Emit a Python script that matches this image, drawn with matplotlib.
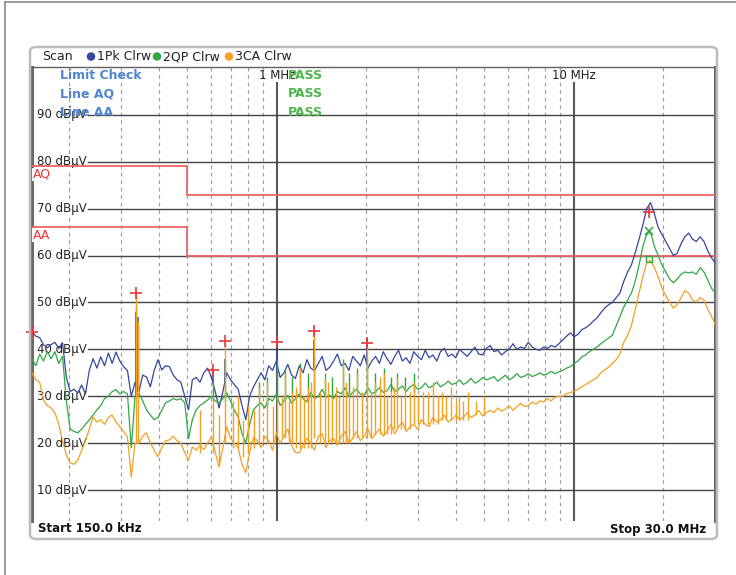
import numpy as np
import matplotlib.pyplot as plt
from matplotlib.patches import FancyBboxPatch, Ellipse
from matplotlib.lines import Line2D

W, H = 736, 575

# analyzer sweep points, 150 kHz .. 30 MHz, log spaced
SWEEP_MHZ = np.geomspace(0.15, 30.0, 180)

# trace 1: 1Pk Clrw (dBuV)
PK = [43.8, 42.8, 42.5, 41.0, 40.3, 41.0, 41.5, 40.2, 41.4, 34.0,
      31.0, 31.5, 30.7, 32.4, 30.5, 35.5, 38.0, 36.0, 38.4, 36.5,
      39.2, 37.0, 39.4, 37.5, 36.3, 35.5, 30.0, 33.0, 31.0, 34.5,
      34.1, 32.0, 35.5, 37.8, 35.6, 36.5, 36.3, 34.5, 33.5, 33.0,
      30.0, 27.1, 33.5, 34.0, 33.0, 35.0, 36.0, 34.0, 31.0, 27.5,
      31.0, 35.0, 33.5, 32.5, 31.5, 28.0, 25.0, 30.0, 32.0, 33.5,
      35.0, 33.5, 36.5, 35.5, 37.5, 34.0, 35.0, 36.8, 34.5, 33.8,
      36.5, 35.0, 37.8, 36.0, 35.5, 37.0, 38.5, 35.5, 36.2, 37.5,
      39.0, 36.5, 37.0, 35.5, 38.5, 37.5, 36.5, 38.8, 36.0, 37.5,
      38.5, 37.0, 39.5, 38.0, 36.8, 38.5, 39.8, 37.5, 38.2, 37.0,
      39.5, 38.5, 37.8, 39.8, 38.2, 38.8, 37.5, 39.5, 40.2, 38.5,
      39.0, 38.2, 40.0, 39.2, 38.5, 39.5, 40.5, 39.0, 38.8, 40.2,
      40.8, 39.5, 39.8, 38.8, 39.5, 40.0, 41.2, 40.0, 40.5, 40.2,
      41.5, 40.5, 40.0, 39.8, 40.5, 40.2, 40.8, 40.5, 41.2, 42.0,
      42.8, 43.5, 42.7, 43.2, 44.2, 44.6, 45.2, 46.0, 46.7, 47.8,
      48.8, 49.5, 50.0, 51.0, 52.0, 54.5, 56.5, 58.0, 60.6, 63.5,
      66.5, 70.0, 71.3, 69.0, 66.0, 64.5, 63.0, 61.5, 60.0, 60.5,
      62.5, 64.0, 64.8, 63.5, 63.0, 64.0, 63.0, 61.0, 59.5, 58.4]

# trace 2: 2QP Clrw
QP = [38.0, 36.5, 39.0, 37.5, 39.5, 38.0, 39.5, 37.0, 38.5, 29.0,
      23.0, 22.5, 22.2, 23.0, 24.0, 25.0, 26.0, 27.1, 28.0, 29.5,
      30.0, 31.0, 31.4, 30.5, 31.0, 30.5, 19.0, 30.0, 30.7, 29.0,
      27.1, 26.0, 25.0, 25.5, 27.0, 28.6, 29.0, 29.5, 29.2, 29.5,
      28.6, 21.0, 25.0, 27.1, 28.0, 28.6, 29.2, 30.0, 29.0, 28.6,
      29.5, 30.7, 29.0, 27.0, 25.6, 22.0, 20.0, 24.0, 27.1, 28.0,
      28.6, 27.5, 29.5, 29.0, 30.5, 28.0, 29.0, 30.2, 28.5, 29.5,
      30.5, 29.5, 28.8, 30.8, 29.5, 30.0, 31.5, 29.8, 30.2, 29.5,
      31.0, 30.5, 31.8, 30.0, 30.8, 31.5, 30.5, 30.2, 31.8, 30.5,
      31.0, 31.8, 30.8, 31.2, 32.5, 31.0, 31.5, 32.2, 31.0, 32.0,
      32.5, 31.5, 31.8, 32.8, 31.8, 32.2, 33.0, 32.0, 32.5, 33.2,
      32.5, 32.8, 33.5, 32.5, 33.0, 33.8, 32.8, 33.2, 34.0, 33.5,
      33.8, 34.2, 33.2, 33.8, 34.5, 33.5, 34.0, 34.8, 34.0, 34.3,
      34.8, 34.2, 34.5, 35.0, 34.5, 34.8, 35.3, 34.8, 35.2, 35.5,
      36.0, 36.3, 37.0, 37.5, 38.4, 38.8, 39.5, 40.0, 40.5, 41.2,
      41.8, 42.4, 43.0, 45.0, 47.0, 49.0, 50.5, 52.0, 54.5, 58.0,
      61.9, 64.5, 65.0, 62.0, 60.0, 58.0, 56.5, 55.0, 54.2, 55.0,
      56.0, 56.5, 56.3, 56.5, 56.0, 57.4, 56.5, 54.8, 53.0, 52.0]

# trace 3: 3CA Clrw
CA = [35.0, 33.5, 33.0, 29.2, 28.0, 27.5, 26.5, 24.0, 20.5, 17.5,
      15.8, 15.5, 16.4, 18.5, 20.5, 23.0, 25.6, 24.5, 25.0, 24.0,
      25.5, 26.0, 24.5, 23.5, 22.5, 21.3, 12.8, 20.0, 20.0, 21.5,
      22.2, 20.0, 18.5, 17.1, 19.0, 20.5, 20.7, 21.5, 20.5, 20.0,
      18.0, 16.4, 19.2, 18.5, 19.5, 18.6, 20.0, 21.3, 18.0, 14.9,
      19.0, 23.5, 21.0, 20.0, 19.0, 15.5, 13.7, 18.0, 21.3, 20.5,
      19.0, 21.5, 20.5, 18.5, 22.2, 20.0, 21.5, 23.0, 19.5, 18.0,
      17.9, 19.5, 21.0, 20.0, 18.5, 21.5, 22.0, 19.0, 20.5, 21.0,
      19.5, 21.5, 22.5, 20.0, 21.0, 22.5, 20.5, 21.5, 23.0, 21.0,
      22.0, 23.0, 21.5, 22.5, 24.0, 22.0, 23.5, 24.5, 22.5, 23.5,
      24.0, 23.0, 25.0, 24.0, 23.5, 25.5, 24.5, 25.0, 26.0, 24.5,
      25.0, 26.0, 25.0, 25.5, 26.5, 25.5, 26.0, 27.0, 25.8, 26.5,
      27.0, 26.5, 27.5, 26.8, 27.3, 28.0, 27.0, 27.8, 28.5, 27.8,
      28.0, 28.8, 28.3, 29.0, 28.8, 29.5, 29.0, 29.8, 30.0, 30.0,
      30.5, 30.8, 31.0, 31.5, 32.0, 32.5, 33.0, 33.5, 34.0, 35.0,
      35.6, 36.2, 37.0, 37.8, 39.0, 41.5, 43.0, 45.0, 48.5, 52.0,
      55.5, 58.5, 59.0, 57.5, 55.5, 53.0, 51.5, 50.0, 48.8, 49.5,
      51.0, 52.5, 52.0, 50.5, 50.1, 51.0, 50.5, 48.5, 47.0, 45.2]

# harmonic spikes: frequency, trace level at foot, top of spike
CA_SPK_F = [0.336, 0.342, 0.55, 0.611, 0.64, 0.670, 0.71, 0.74, 0.77, 0.80,
            0.84, 0.87, 0.93, 0.97, 1.00, 1.04, 1.07, 1.10, 1.13, 1.16,
            1.20, 1.24, 1.27, 1.30, 1.335, 1.40, 1.45, 1.49, 1.53, 1.58,
            1.62, 1.67, 1.71, 1.75, 1.80, 1.87, 1.94, 2.01, 2.08, 2.15,
            2.22, 2.30, 2.36, 2.42, 2.48, 2.55, 2.62, 2.70, 2.80, 2.90,
            3.00, 3.10, 3.22, 3.35, 3.48, 3.60, 3.72, 3.85, 4.00, 4.10,
            4.25, 4.40, 4.70, 5.00]
CA_SPK_LO = [20, 20, 18, 18, 16, 20, 19, 19, 17, 18,
             19, 20, 20, 20, 22, 21, 21, 20, 20, 19,
             19, 19, 19, 19, 21, 20, 20, 20, 20, 20,
             20, 20, 20, 20, 21, 21, 21, 21, 21, 22,
             22, 22, 22, 22, 23, 23, 23, 23, 23, 24,
             24, 24, 24, 24, 24, 25, 25, 25, 25, 25,
             25, 25, 26, 26]
CA_SPK_HI = [52.0, 46.0, 27.0, 30.0, 26.0, 41.8, 29.0, 30.0, 25.0, 28.0,
             27.0, 32.0, 33.0, 28.0, 30.0, 30.0, 35.0, 29.0, 31.0, 32.0,
             36.0, 30.0, 32.0, 33.0, 43.9, 31.0, 34.0, 33.0, 30.0, 32.0,
             30.0, 37.0, 33.0, 31.0, 32.0, 35.0, 31.0, 41.0, 31.0, 33.0,
             34.0, 35.0, 30.0, 31.0, 32.0, 34.0, 30.0, 32.0, 31.0, 33.0,
             30.0, 31.0, 31.0, 33.0, 30.0, 31.0, 30.0, 32.0, 29.0, 30.0,
             29.0, 31.0, 29.0, 30.0]
QP_SPK_F = [0.336, 0.342, 0.611, 0.670, 0.87, 0.93, 1.00, 1.07, 1.13, 1.20,
            1.27, 1.335, 1.45, 1.53, 1.67, 1.75, 1.87, 2.01, 2.15, 2.30,
            2.42, 2.55, 2.70, 2.90]
QP_SPK_LO = [30, 30, 29, 29, 28, 28, 29, 29, 29, 30,
             29, 30, 30, 30, 30, 30, 31, 31, 30, 31,
             31, 31, 31, 31]
QP_SPK_HI = [49.0, 45.0, 33.0, 38.0, 33.0, 34.0, 38.0, 36.0, 34.0, 37.0,
             35.0, 38.5, 35.0, 34.0, 38.0, 35.0, 36.0, 38.0, 35.0, 36.0,
             34.0, 35.0, 34.0, 35.0]
PK_SPK_F = [0.336, 0.342, 0.611, 0.670, 1.00, 1.335, 2.01]
PK_SPK_LO = [30, 31, 33, 33, 35, 36, 37]
PK_SPK_HI = [48.0, 47.0, 35.6, 38.0, 41.5, 42.0, 42.5]

# limit lines
LIM_F = [0.15, 0.5, 0.5, 30.0]
AQ_DB = [79, 79, 73, 73]
AA_DB = [66, 66, 60, 60]

# peak markers
MK_F = [0.150, 0.336, 0.611, 0.670, 1.00, 1.335, 2.01, 17.9]
MK_DB = [43.8, 52.0, 35.6, 41.8, 41.5, 43.9, 41.3, 69.3]
QP_MK = (17.9, 65.3)
CA_MK = (17.9, 59.3)

Y_TICKS = [10, 20, 30, 40, 50, 60, 70, 80, 90]
MINOR_F = [0.2, 0.3, 0.4, 0.5, 0.6, 0.7, 0.8, 0.9,
           2, 3, 4, 5, 6, 7, 8, 9, 20]

C_PK = '#33479c'
C_QP = '#2fa843'
C_CA = '#f2a124'
C_LIM = '#f06262'


def fx(x):
    return x / W


def fy(y):
    return 1 - y / H


fig = plt.figure(figsize=(W / 100, H / 100), dpi=100)
fig.patch.set_facecolor('white')

# outer border + rounded frame
fig.add_artist(Line2D([fx(5), fx(5)], [fy(2), fy(575)], color='#8a8a8a', lw=1.2))
fig.add_artist(Line2D([fx(5), fx(736)], [fy(2), fy(2)], color='#8a8a8a', lw=1.2))
fig.add_artist(FancyBboxPatch((fx(30), fy(539)), fx(717) - fx(30), fy(47) - fy(539),
                              boxstyle='round,pad=0,rounding_size=0.008',
                              facecolor='none', edgecolor='#bdbdbd', lw=1.8))

ax = fig.add_axes([fx(32), fy(521), fx(715.4) - fx(32), fy(67) - fy(521)])
ax.set_xscale('log')
ax.set_xlim(0.15, 30)
ax.set_ylim(3.4, 100.2)
ax.set_xticks([])
ax.set_yticks([])
ax.minorticks_off()
for s in ['left', 'right']:
    ax.spines[s].set_color('#6a6a6a')
    ax.spines[s].set_linewidth(2.2)
ax.spines['top'].set_color('#606060')
ax.spines['top'].set_linewidth(1.0)
ax.spines['bottom'].set_visible(False)

for f in MINOR_F:
    ax.axvline(f, color='#a0a0a0', lw=0.9, ls=(0, (3, 3)), zorder=1)
for f in [1, 10]:
    ax.plot([f, f], [3.4, 96.8], color='#5a5a5a', lw=1.5, zorder=1.2)
ax.text(1, 98.3, '1 MHz', ha='center', va='center', fontsize=8.5, color='#222222', zorder=3)
ax.text(10, 98.3, '10 MHz', ha='center', va='center', fontsize=8.5, color='#222222', zorder=3)

for v in Y_TICKS:
    ax.axhline(v, xmin=0.082, color='#454545', lw=1.0, zorder=1.5)
    ax.text(0.0075, v, f'{v} dBµV', transform=ax.get_yaxis_transform(),
            ha='left', va='center', fontsize=8.5, color='#222222', zorder=3,
            bbox=dict(facecolor='white', edgecolor='none', pad=0.3))

ax.plot(LIM_F, AQ_DB, color=C_LIM, lw=1.3, zorder=3.5)
ax.plot(LIM_F, AA_DB, color=C_LIM, lw=1.3, zorder=3.5)
ax.text(0.1505, 77.3, 'AQ', ha='left', va='center', fontsize=9, color='#e83a3a', zorder=3.6,
        bbox=dict(facecolor='white', edgecolor='none', pad=0.3))
ax.text(0.1505, 64.3, 'AA', ha='left', va='center', fontsize=9, color='#e83a3a', zorder=3.6,
        bbox=dict(facecolor='white', edgecolor='none', pad=0.3))

ax.plot(SWEEP_MHZ, PK, color=C_PK, lw=0.9, zorder=4)
ax.vlines(PK_SPK_F, PK_SPK_LO, PK_SPK_HI, color=C_PK, lw=1.1, zorder=4)
ax.plot(SWEEP_MHZ, QP, color=C_QP, lw=0.9, zorder=5)
ax.vlines(QP_SPK_F, QP_SPK_LO, QP_SPK_HI, color=C_QP, lw=1.0, zorder=5)
ax.plot(SWEEP_MHZ, CA, color=C_CA, lw=0.9, zorder=6)
ax.vlines(CA_SPK_F, CA_SPK_LO, CA_SPK_HI, color=C_CA, lw=1.0, zorder=6)

ax.plot(MK_F, MK_DB, ls='none', marker='+', ms=8, mew=1.2, color='#e83a3a', zorder=7,
        clip_on=False)
ax.plot(*QP_MK, marker='x', ms=6, mew=1.1, color=C_QP, zorder=7)
ax.plot(*CA_MK, marker='s', ms=4, mew=1.0, mfc='none', mec=C_QP, zorder=7)

# limit check box
for yv, lab in [(98.3, 'Limit Check'), (94.5, 'Line AQ'), (90.6, 'Line AA')]:
    ax.text(0.1864, yv, lab, fontsize=9, fontweight='bold', color='#4f84cf',
            ha='left', va='center', zorder=3.7)
for yv in [98.3, 94.5, 90.6]:
    ax.text(1.092, yv, 'PASS', fontsize=9, fontweight='bold', color='#4cb54c',
            ha='left', va='center', zorder=3.7)

# header legend
fig.text(fx(42), fy(56.5), 'Scan', fontsize=9, va='center', ha='left', color='#222222')
for xc, col, lab in [(91, C_PK, '1Pk Clrw'), (157, C_QP, '2QP Clrw'), (229, C_CA, '3CA Clrw')]:
    fig.add_artist(Ellipse((fx(xc), fy(56.5)), 8.5 / W, 8.5 / H, facecolor=col, edgecolor='none'))
    fig.text(fx(xc + 6), fy(56.5), lab, fontsize=9, va='center', ha='left', color='#222222')

# footer
fig.text(fx(38), fy(529), 'Start 150.0 kHz', fontsize=8.5, fontweight='bold',
         va='center', ha='left', color='#111111')
fig.text(fx(706), fy(529), 'Stop 30.0 MHz', fontsize=8.5, fontweight='bold',
         va='center', ha='right', color='#111111')

fig.savefig('out.png', dpi=100)
